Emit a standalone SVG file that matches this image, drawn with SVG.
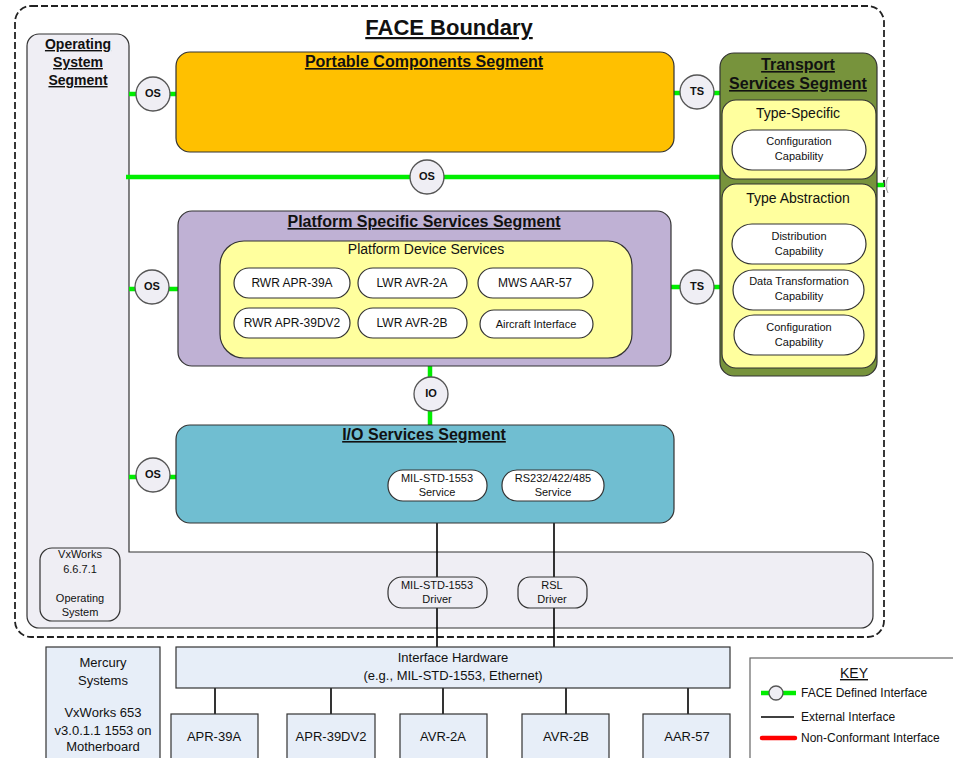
<svg xmlns="http://www.w3.org/2000/svg" width="953" height="758" viewBox="0 0 953 758">
  <style>
    text { font-family: "Liberation Sans", Arial, sans-serif; fill: #111; }
    .seg-title { font-size: 16px; font-weight: bold; text-anchor: middle; text-decoration: underline; }
    .sub-title { font-size: 14px; text-anchor: middle; }
    .pill { fill: #ffffff; stroke: #333; stroke-width: 1.2; }
    .pill-text { font-size: 12px; text-anchor: middle; }
    .small-text { font-size: 11px; text-anchor: middle; }
    .iface { fill: #efeef4; stroke: #555; stroke-width: 1.3; }
    .iface-text { font-size: 11px; font-weight: bold; text-anchor: middle; }
    .green { stroke: #00ee00; stroke-width: 4.5; fill: none; }
    .ext { stroke: #000; stroke-width: 1.6; fill: none; }
    .box { stroke: #333; stroke-width: 1.2; }
    .hw { fill: #e7eef8; stroke: #333; stroke-width: 1.2; }
    .hw-text { font-size: 13px; text-anchor: middle; }
  </style>

  <rect width="953" height="758" fill="#ffffff"/>

  <!-- FACE boundary -->
  <g id="face-boundary">
    <rect x="15" y="6" width="869" height="631" rx="16" fill="none" stroke="#222" stroke-width="1.8" stroke-dasharray="7,3"/>
    <text x="449" y="35" font-size="22" font-weight="bold" text-anchor="middle" text-decoration="underline">FACE Boundary</text>
  </g>

  <!-- Operating System Segment (L-shaped) -->
  <g id="os-segment">
    <path d="M39,34 H117 A12,12 0 0 1 129,46 V552 H861 A12,12 0 0 1 873,564 V616 A12,12 0 0 1 861,628 H39 A12,12 0 0 1 27,616 V46 A12,12 0 0 1 39,34 Z" fill="#efeef4" stroke="#333" stroke-width="1.2"/>
    <text x="78" y="49" font-size="14" font-weight="bold" text-anchor="middle" text-decoration="underline">Operating</text>
    <text x="78" y="67" font-size="14" font-weight="bold" text-anchor="middle" text-decoration="underline">System</text>
    <text x="78" y="85" font-size="14" font-weight="bold" text-anchor="middle" text-decoration="underline">Segment</text>
  </g>

  <g id="vxworks-os">
    <rect x="40" y="548" width="80" height="73" rx="12" fill="#efeef4" stroke="#333" stroke-width="1.2"/>
    <text class="small-text" x="80" y="558">VxWorks</text>
    <text class="small-text" x="80" y="573">6.6.7.1</text>
    <text class="small-text" x="80" y="602">Operating</text>
    <text class="small-text" x="80" y="616">System</text>
  </g>

  <!-- Connectors -->
  <g id="connectors">
    <line class="green" x1="129" y1="94" x2="177" y2="94"/>
    <line class="green" x1="673" y1="93" x2="721" y2="93"/>
    <line class="green" x1="126" y1="177" x2="721" y2="177"/>
    <line class="green" x1="129" y1="289" x2="179" y2="289"/>
    <line class="green" x1="670" y1="287" x2="721" y2="287"/>
    <line class="green" x1="430" y1="365" x2="430" y2="426"/>
    <line class="green" x1="129" y1="477" x2="177" y2="477"/>
    <line class="green" x1="876" y1="185" x2="884" y2="185"/>
    <line class="ext" x1="437" y1="501" x2="437" y2="647"/>
    <line class="ext" x1="554" y1="501" x2="554" y2="647"/>
    <line class="ext" x1="215" y1="688" x2="215" y2="714"/>
    <line class="ext" x1="331" y1="688" x2="331" y2="714"/>
    <line class="ext" x1="443" y1="688" x2="443" y2="714"/>
    <line class="ext" x1="566" y1="688" x2="566" y2="714"/>
    <line class="ext" x1="688" y1="688" x2="688" y2="714"/>
  </g>

  <!-- Portable Components Segment -->
  <g id="portable-components">
    <rect class="box" x="176" y="52" width="498" height="100" rx="14" fill="#ffc000"/>
    <text class="seg-title" x="424" y="67">Portable Components Segment</text>
  </g>

  <!-- Transport Services Segment -->
  <g id="transport-services">
    <rect class="box" x="720" y="53" width="157" height="323" rx="14" fill="#77933c"/>
    <text class="seg-title" x="798" y="70">Transport</text>
    <text class="seg-title" x="798" y="89">Services Segment</text>
    <g id="type-specific">
      <rect class="box" x="722" y="100" width="154" height="79" rx="14" fill="#ffff9e"/>
      <text class="sub-title" x="798" y="118">Type-Specific</text>
      <rect class="pill" x="732" y="130" width="134" height="40" rx="20"/>
      <text class="small-text" x="799" y="145">Configuration</text>
      <text class="small-text" x="799" y="160">Capability</text>
    </g>
    <g id="type-abstraction">
      <rect class="box" x="722" y="184" width="154" height="184" rx="14" fill="#ffff9e"/>
      <text class="sub-title" x="798" y="203">Type Abstraction</text>
      <rect class="pill" x="732" y="224" width="134" height="40" rx="20"/>
      <text class="small-text" x="799" y="240">Distribution</text>
      <text class="small-text" x="799" y="255">Capability</text>
      <rect class="pill" x="733" y="270" width="131" height="40" rx="20"/>
      <text class="small-text" x="799" y="285">Data Transformation</text>
      <text class="small-text" x="799" y="300">Capability</text>
      <rect class="pill" x="734" y="315" width="130" height="40" rx="20"/>
      <text class="small-text" x="799" y="331">Configuration</text>
      <text class="small-text" x="799" y="346">Capability</text>
    </g>
  </g>

  <!-- Platform Specific Services Segment -->
  <g id="platform-specific">
    <rect class="box" x="178" y="211" width="493" height="155" rx="14" fill="#bfb1d4"/>
    <text class="seg-title" x="424" y="227">Platform Specific Services Segment</text>
    <g id="platform-device-services">
      <rect class="box" x="220" y="241" width="412" height="117" rx="24" fill="#ffff9e"/>
      <text class="sub-title" x="426" y="254">Platform Device Services</text>
      <rect class="pill" x="234" y="268" width="116" height="30" rx="15"/>
      <text class="pill-text" x="292" y="287">RWR APR-39A</text>
      <rect class="pill" x="358" y="268" width="109" height="30" rx="15"/>
      <text class="pill-text" x="412" y="287">LWR AVR-2A</text>
      <rect class="pill" x="478" y="268" width="115" height="30" rx="15"/>
      <text class="pill-text" x="535" y="287">MWS AAR-57</text>
      <rect class="pill" x="234" y="308" width="116" height="30" rx="15"/>
      <text class="pill-text" x="292" y="327">RWR APR-39DV2</text>
      <rect class="pill" x="358" y="308" width="109" height="30" rx="15"/>
      <text class="pill-text" x="412" y="327">LWR AVR-2B</text>
      <rect class="pill" x="480" y="310" width="113" height="28" rx="14"/>
      <text class="small-text" x="536" y="328">Aircraft Interface</text>
    </g>
  </g>

  <!-- I/O Services Segment -->
  <g id="io-services">
    <rect class="box" x="176" y="425" width="498" height="98" rx="14" fill="#70bed1"/>
    <text class="seg-title" x="424" y="440">I/O Services Segment</text>
    <rect class="pill" x="388" y="470" width="99" height="31" rx="15"/>
    <text class="small-text" x="437" y="482">MIL-STD-1553</text>
    <text class="small-text" x="437" y="496">Service</text>
    <rect class="pill" x="502" y="470" width="102" height="31" rx="15"/>
    <text class="small-text" x="553" y="482">RS232/422/485</text>
    <text class="small-text" x="553" y="496">Service</text>
  </g>

  <!-- Drivers -->
  <g id="drivers">
    <rect x="388" y="577" width="99" height="31" rx="14" fill="#efeef4" stroke="#333" stroke-width="1.2"/>
    <text class="small-text" x="437" y="589">MIL-STD-1553</text>
    <text class="small-text" x="437" y="603">Driver</text>
    <rect x="518" y="577" width="69" height="31" rx="12" fill="#efeef4" stroke="#333" stroke-width="1.2"/>
    <text class="small-text" x="552" y="589">RSL</text>
    <text class="small-text" x="552" y="603">Driver</text>
  </g>

  <!-- FACE defined interfaces -->
  <g id="interfaces">
    <g id="os-portable"><circle class="iface" cx="153" cy="94" r="17"/><text class="iface-text" x="153" y="97">OS</text></g>
    <g id="ts-portable"><circle class="iface" cx="697" cy="92" r="17"/><text class="iface-text" x="697" y="95">TS</text></g>
    <g id="os-transport"><circle class="iface" cx="427" cy="177" r="17"/><text class="iface-text" x="427" y="180">OS</text></g>
    <g id="os-platform"><circle class="iface" cx="152" cy="287" r="17"/><text class="iface-text" x="152" y="290">OS</text></g>
    <g id="ts-platform"><circle class="iface" cx="697" cy="287" r="17"/><text class="iface-text" x="697" y="290">TS</text></g>
    <g id="io-platform"><circle class="iface" cx="431" cy="394" r="17"/><text class="iface-text" x="431" y="397">IO</text></g>
    <g id="os-io"><circle class="iface" cx="153" cy="475" r="17"/><text class="iface-text" x="153" y="478">OS</text></g>
    <path d="M888,177 A17,17 0 0 0 888,193" fill="#efeef4" stroke="#999" stroke-width="1"/>
  </g>

  <!-- Hardware -->
  <g id="mercury-systems">
    <rect class="hw" x="46" y="647" width="114" height="120"/>
    <text class="hw-text" x="103" y="667">Mercury</text>
    <text class="hw-text" x="103" y="685">Systems</text>
    <text class="hw-text" x="103" y="717">VxWorks 653</text>
    <text class="hw-text" x="103" y="735">v3.0.1.1 1553 on</text>
    <text class="hw-text" x="103" y="751">Motherboard</text>
  </g>
  <g id="interface-hardware">
    <rect class="hw" x="176" y="647" width="554" height="41"/>
    <text class="hw-text" x="453" y="662">Interface Hardware</text>
    <text class="hw-text" x="453" y="680">(e.g., MIL-STD-1553, Ethernet)</text>
  </g>
  <g id="apr-39a"><rect class="hw" x="171" y="714" width="87" height="60"/><text class="hw-text" x="214" y="741">APR-39A</text></g>
  <g id="apr-39dv2"><rect class="hw" x="287" y="714" width="88" height="60"/><text class="hw-text" x="331" y="741">APR-39DV2</text></g>
  <g id="avr-2a"><rect class="hw" x="400" y="714" width="87" height="60"/><text class="hw-text" x="443" y="741">AVR-2A</text></g>
  <g id="avr-2b"><rect class="hw" x="522" y="714" width="87" height="60"/><text class="hw-text" x="566" y="741">AVR-2B</text></g>
  <g id="aar-57"><rect class="hw" x="643" y="714" width="87" height="60"/><text class="hw-text" x="687" y="741">AAR-57</text></g>

  <!-- Key -->
  <g id="key">
    <rect x="750" y="658" width="220" height="120" fill="#ffffff" stroke="#666" stroke-width="1.2"/>
    <text x="854" y="678" font-size="14" text-anchor="middle" text-decoration="underline">KEY</text>
    <line class="green" x1="761" y1="693" x2="796" y2="693"/>
    <circle class="iface" cx="776" cy="693" r="7"/>
    <text x="801" y="697" font-size="12">FACE Defined Interface</text>
    <line x1="761" y1="717" x2="794" y2="717" stroke="#000" stroke-width="1.6"/>
    <text x="801" y="721" font-size="12">External Interface</text>
    <line x1="762" y1="738" x2="795" y2="738" stroke="#ff0000" stroke-width="4.5" stroke-linecap="round"/>
    <text x="801" y="742" font-size="12">Non-Conformant Interface</text>
  </g>
</svg>
